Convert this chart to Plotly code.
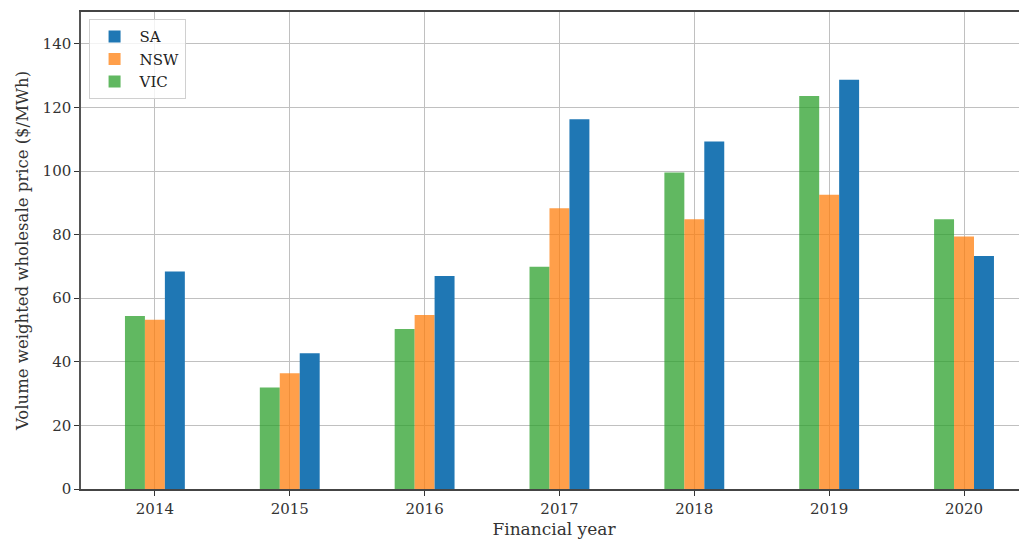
import plotly.graph_objects as go

years = ["2014", "2015", "2016", "2017", "2018", "2019", "2020"]
vic = [54.4, 31.9, 50.3, 69.9, 99.5, 123.6, 84.8]
nsw = [53.2, 36.4, 54.7, 88.3, 84.8, 92.5, 79.4]
sa = [68.4, 42.7, 67.0, 116.3, 109.3, 128.7, 73.3]
y_ticks = [0, 20, 40, 60, 80, 100, 120, 140]

FONT = "DejaVu Serif"

fig = go.Figure()
fig.add_trace(go.Bar(name="VIC", x=years, y=vic,
                     marker=dict(color="rgba(44,160,44,0.75)", line=dict(width=0))))
fig.add_trace(go.Bar(name="NSW", x=years, y=nsw,
                     marker=dict(color="rgba(255,127,14,0.75)", line=dict(width=0))))
fig.add_trace(go.Bar(name="SA", x=years, y=sa,
                     marker=dict(color="rgb(31,119,180)", line=dict(width=0))))

fig.update_layout(
    width=1019, height=534,
    margin=dict(l=73, r=0, t=4, b=53),
    paper_bgcolor="white", plot_bgcolor="white",
    barmode="group", bargap=0.556, bargroupgap=0,
    font=dict(family=FONT, size=14, color="#333333"),
    legend=dict(
        x=0.008, y=0.985, xanchor="left", yanchor="top",
        traceorder="reversed",
        bgcolor="rgba(255,255,255,0.8)", bordercolor="#d0d0d0", borderwidth=1,
        font=dict(family=FONT, size=15, color="#222222"),
        tracegroupgap=6, itemwidth=40,
    ),
    showlegend=True,
)
fig.update_xaxes(
    type="category", range=[-0.548, 6.467],
    showgrid=True, gridcolor="#c0c0c0", gridwidth=1,
    showline=True, linecolor="#444444", linewidth=1.5, mirror=True,
    ticks="outside", ticklen=5, tickcolor="#333333",
    tickfont=dict(family=FONT, size=15, color="#333333"),
    title=dict(text="Financial year", font=dict(family=FONT, size=17, color="#333333"), standoff=6),
)
fig.update_yaxes(
    range=[0, 150], tickvals=y_ticks,
    showgrid=True, gridcolor="#c0c0c0", gridwidth=1, zeroline=False,
    showline=True, linecolor="#555555", linewidth=1.5,
    ticks="outside", ticklen=5, tickcolor="#333333",
    tickfont=dict(family=FONT, size=15, color="#333333"),
    title=dict(text="Volume weighted wholesale price ($/MWh)",
               font=dict(family=FONT, size=16.5, color="#333333"), standoff=10),
)

fig.write_html("out.html")
